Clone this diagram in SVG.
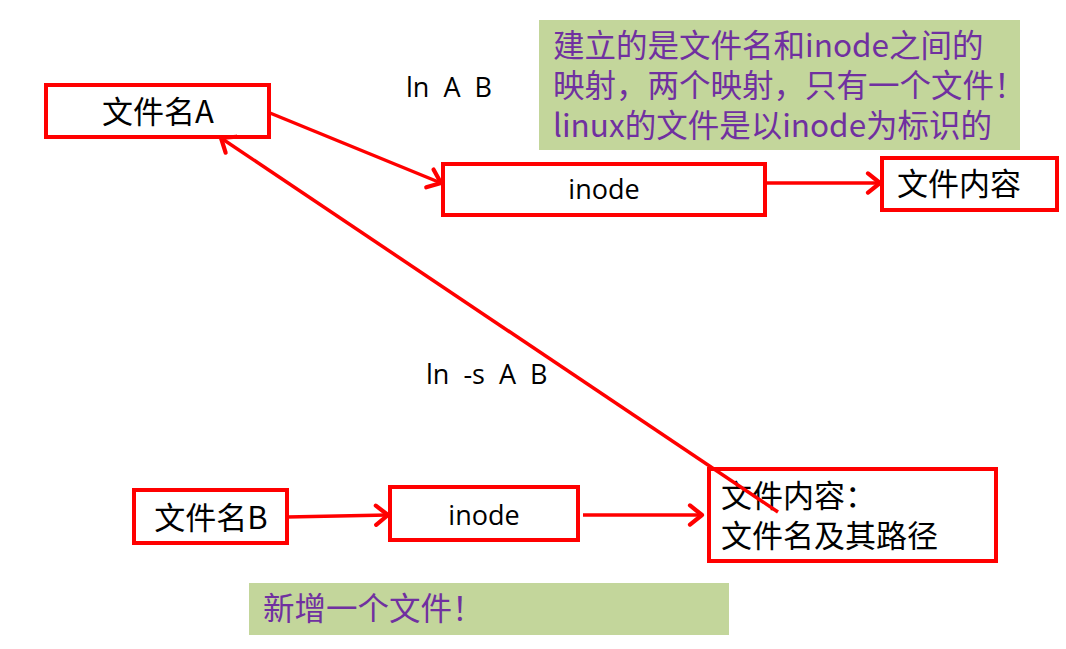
<svg xmlns="http://www.w3.org/2000/svg" width="1066" height="649" viewBox="0 0 1066 649">
<style>
.box{fill:#fff;stroke:#FF0000;stroke-width:4}
.note{fill:#C3D69B;stroke:none}
.cj{font-family:"Noto Sans CJK SC","Noto Sans",sans-serif;font-size:31px;fill:#000}
.lat{font-family:"Open Sans","Noto Sans","Noto Sans CJK SC",sans-serif;font-size:27px;fill:#000}
.pur{font-family:"Noto Sans CJK SC","Noto Sans",sans-serif;font-size:31.5px;fill:#7030A0}
.con{stroke:#FF0000;stroke-width:3.5;fill:none;marker-end:url(#arr)}
</style>
<defs>
<marker id="arr" markerUnits="userSpaceOnUse" markerWidth="24" markerHeight="24" refX="14" refY="10" viewBox="0 0 20 20" orient="auto">
<path d="M4,2 L14,10 L4,18" fill="none" stroke="#FF0000" stroke-width="3.5" stroke-linecap="round" stroke-linejoin="round"/>
</marker>
</defs>
<rect width="1066" height="649" fill="#fff"/>
<g id="note1">
<rect class="note" x="539" y="20" width="481" height="130"/>
<text class="pur" x="553" y="57">建立的是文件名和inode之间的</text>
<text class="pur" x="553" y="97">映射，两个映射，只有一个文件！</text>
<text class="pur" x="553" y="137">linux的文件是以inode为标识的</text>
</g>
<g id="note2">
<rect class="note" x="249" y="583" width="480" height="52"/>
<text class="pur" x="263" y="620">新增一个文件！</text>
</g>
<g id="label-ln"><text class="lat" x="406" y="97" xml:space="preserve">ln  A  B</text></g>
<g id="label-lns"><text class="lat" x="426" y="384" xml:space="preserve">ln  -s  A  B</text></g>
<g id="nameA">
<rect class="box" x="46" y="85" width="223" height="52"/>
<text class="cj" x="158" y="123" text-anchor="middle">文件名A</text>
</g>
<g id="inodeA">
<rect class="box" x="443" y="164" width="322" height="51"/>
<text class="lat" x="604" y="199" text-anchor="middle">inode</text>
</g>
<g id="contentA">
<rect class="box" x="882" y="158" width="175" height="52"/>
<text class="cj" x="897" y="195">文件内容</text>
</g>
<g id="nameB">
<rect class="box" x="134" y="490" width="153" height="53"/>
<text class="cj" x="211" y="529" text-anchor="middle">文件名B</text>
</g>
<g id="inodeB">
<rect class="box" x="390" y="487" width="188" height="53"/>
<text class="lat" x="484" y="525" text-anchor="middle">inode</text>
</g>
<g id="contentB">
<rect class="box" x="709" y="469" width="287" height="92"/>
<text class="cj" x="721" y="507">文件内容：</text>
<text class="cj" x="721" y="547">文件名及其路径</text>
</g>
<g id="connectors">
<line class="con" x1="270" y1="113" x2="441" y2="183"/>
<line class="con" x1="765" y1="183" x2="880" y2="183"/>
<line class="con" x1="287" y1="517" x2="388" y2="515"/>
<line class="con" x1="583" y1="515" x2="702" y2="515"/>
<line class="con" x1="778" y1="512" x2="221" y2="138"/>
</g>
</svg>
